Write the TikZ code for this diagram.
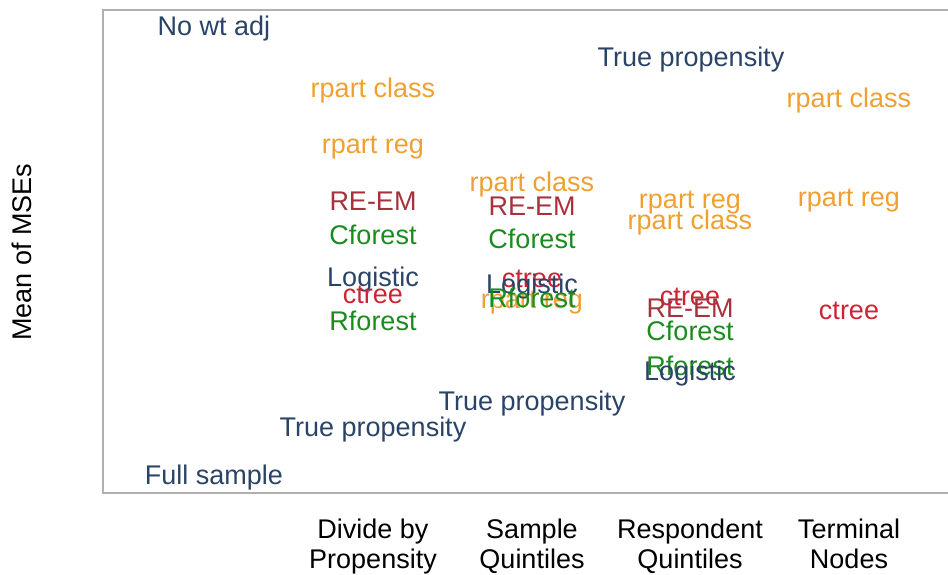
\documentclass[tikz,border=0pt]{standalone}
\usepackage{fontspec}
\setmainfont{Liberation Sans}
\usepackage{xcolor}
\usepackage{tikz}

\definecolor{navy}{HTML}{2A4467}
\definecolor{orng}{HTML}{F0A030}
\definecolor{dred}{HTML}{A5323C}
\definecolor{grn}{HTML}{1A8C1E}
\definecolor{rd}{HTML}{CD2332}
\definecolor{framegray}{HTML}{B0B0B0}

\tikzset{
	lbl/.style={font=\fontsize{13.5}{15}\selectfont, anchor=base, inner sep=0pt},
	wt/.style={lbl, text=navy},
	rp/.style={lbl, text=orng},
	rem/.style={lbl, text=dred},
	cf/.style={lbl, text=grn},
	ct/.style={lbl, text=rd},
	axlbl/.style={lbl, text=black, align=center}
}

\begin{document}
\begin{tikzpicture}[x=0.5pt, y=-0.5pt]
			\useasboundingbox (0, 0) rectangle (948, 574);
			% Frame of the plot:
			\draw[framegray, line width=0.6pt] (948, 10) -- (103, 10) -- (103, 493) -- (948, 493);
			% Axis labels:
			\node[lbl, rotate=90](YL) at (32, 252){Mean of MSEs};
			\node[axlbl](X1) at (373, 568){Divide by\\Propensity};
			\node[axlbl](X2) at (532, 568){Sample\\Quintiles};
			\node[axlbl](X3) at (690, 568){Respondent\\Quintiles};
			\node[axlbl](X4) at (849, 568){Terminal\\Nodes};
			% Baselines:
			\node[wt](N1) at (214, 35){No wt adj};
			\node[wt](N2) at (214, 484){Full sample};
			% Divide by propensity:
			\node[rp](N3) at (373, 97){rpart class};
			\node[rp](N4) at (373, 153){rpart reg};
			\node[rem](N5) at (373, 210){RE-EM};
			\node[cf](N6) at (373, 244){Cforest};
			\node[wt](N7) at (373, 286){Logistic};
			\node[ct](N8) at (373, 303){ctree};
			\node[cf](N9) at (373, 330){Rforest};
			\node[wt](N10) at (373, 436){True propensity};
			% Sample quintiles:
			\node[rp](N11) at (532, 191){rpart class};
			\node[rem](N12) at (532, 215){RE-EM};
			\node[cf](N13) at (532, 248){Cforest};
			\node[rp](N14) at (532, 308){rpart reg};
			\node[ct](N15) at (532, 287){ctree};
			\node[wt](N16) at (532, 293){Logistic};
			\node[cf](N17) at (532, 307){Rforest};
			\node[wt](N18) at (532, 410){True propensity};
			% Respondent quintiles:
			\node[wt](N19) at (691, 66){True propensity};
			\node[rp](N20) at (690, 208){rpart reg};
			\node[rp](N21) at (690, 229){rpart class};
			\node[ct](N22) at (690, 305){ctree};
			\node[rem](N23) at (690, 317){RE-EM};
			\node[cf](N24) at (690, 340){Cforest};
			\node[cf](N25) at (690, 375){Rforest};
			\node[wt](N26) at (690, 380){Logistic};
			% Terminal nodes:
			\node[rp](N27) at (849, 107){rpart class};
			\node[rp](N28) at (849, 206){rpart reg};
			\node[ct](N29) at (849, 319){ctree};
		\end{tikzpicture}
\end{document}
